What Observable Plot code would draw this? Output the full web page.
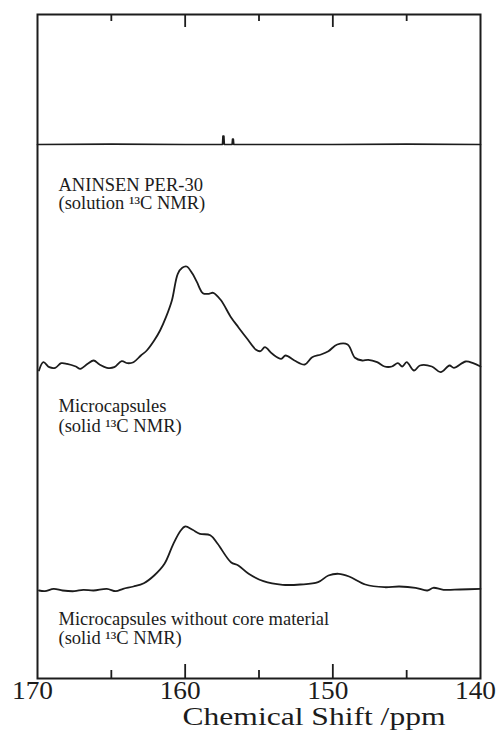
<!DOCTYPE html>
<html><head><meta charset="utf-8">
<script src="https://cdn.jsdelivr.net/npm/d3@7"></script>
<script src="https://cdn.jsdelivr.net/npm/@observablehq/plot@0.6"></script>
<style>body{margin:0;background:#fff}</style>
</head><body><div id="chart"></div>
<script>
// Chemical shift (ppm) and intensity (arbitrary units)
const solutionPpm = [170, 165, 160, 157.47, 157.44, 157.38, 157.35, 156.82, 156.79, 156.74, 156.71, 150, 145, 140];
const solutionInt = [0, 0.3, 0, 0, 8.5, 8.5, 0, 0, 5.5, 5.5, 0, 0, 0.3, 0];

const capsulePpm = [169.9,169.6,169.2,168.8,168.4,168.0,167.4,167.1,166.6,166.2,165.8,165.3,164.8,164.3,163.9,163.5,163.0,162.6,162.1,161.7,161.3,160.9,160.5,160.2,159.9,159.5,159.2,158.8,158.4,158.1,157.6,156.9,156.4,155.8,155.2,154.9,154.6,154.1,153.5,153.2,152.6,151.9,151.4,150.8,150.3,149.7,149.0,148.5,148.0,147.6,147.0,146.5,146.0,145.6,145.3,145.0,144.5,144.1,143.3,142.7,142.1,141.8,141.0,140.5,140.0];
const capsuleInt = [-4,4.3,-0.7,-1.3,3.3,2.7,0,-2.3,2.7,6,2,-1.3,-0.7,5.3,3.3,4.3,11,16,26,36,49.3,66,92.7,98.7,100,92.7,84.3,73.3,72.7,73.7,66.7,49.3,39.3,27.7,16.7,15.3,19.3,12.7,7.7,11,6,2,9.3,12,15.3,22,22,8.7,6,6.7,4.3,0,0,3.3,0,4.3,-4,1,0,-5.7,1,-1.3,5,3.3,0];

const emptyPpm = [169.9,169.5,168.9,168.3,167.5,166.9,166.2,165.3,164.7,164.2,163.5,162.8,162.1,161.4,160.8,160.3,160.0,159.5,159.0,158.3,157.8,156.9,156.4,155.7,154.7,153.4,152.2,151.0,150.3,149.6,148.9,147.8,146.5,145.5,144.4,143.6,143.2,142.5,141.4,140.0];
const emptyInt = [-1,-1.7,0.7,-1,-1.7,-0.3,-1,0.7,-1.7,0.7,3,6.3,14,25.7,45.7,59,63,59.7,55.7,54.3,45.7,27.3,24,15.7,8.3,4.7,5,7.3,14,15.7,13,5,2.3,3,1.7,-1,1.7,-0.3,0,0.7];

const seriesNames = ["solution", "capsules", "empty"];
const seriesOffsets = [534, 312, 89];   // vertical stacking offset of each trace
const labels = [
  "ANINSEN PER-30\n(solution \u00B9\u00B3C NMR)",
  "Microcapsules\n(solid \u00B9\u00B3C NMR)",
  "Microcapsules without core material\n(solid \u00B9\u00B3C NMR)"
];
const majorTicks = [160, 150];
const minorTicks = [165, 155, 145];
const tickLabels = [170, 160, 150, 140];
const xTitle = "Chemical Shift /ppm";

const rows = [];
[[solutionPpm, solutionInt], [capsulePpm, capsuleInt], [emptyPpm, emptyInt]].forEach(([p, v], i) => {
  p.forEach((ppm, j) => rows.push({series: seriesNames[i], ppm, y: v[j] + seriesOffsets[i]}));
});
const sharpRows = rows.filter(r => r.series === "solution");
const broadRows = rows.filter(r => r.series !== "solution");

const font = "'Liberation Serif', 'Times New Roman', serif";
const ink = "#1c1c1c";

const chart = Plot.plot({
  width: 496,
  height: 739,
  marginLeft: 37,
  marginRight: 16,
  marginTop: 14,
  marginBottom: 61,
  x: {domain: [170, 140], axis: null},
  y: {domain: [0, 664], axis: null},
  style: {fontFamily: font, background: "#fff", color: ink},
  marks: [
    Plot.line(sharpRows, {x: "ppm", y: "y", stroke: ink, strokeWidth: 1.7}),
    Plot.line(broadRows, {x: "ppm", y: "y", z: "series", stroke: ink, strokeWidth: 1.8, curve: "catmull-rom"}),
    // inward ticks, top and bottom
    Plot.ruleX(majorTicks, {y1: 651, y2: 664, stroke: ink, strokeWidth: 1.8}),
    Plot.ruleX(minorTicks, {y1: 657, y2: 664, stroke: ink, strokeWidth: 1.8}),
    Plot.ruleX(majorTicks, {y1: 0, y2: 14, stroke: ink, strokeWidth: 1.8}),
    Plot.ruleX(minorTicks, {y1: 0, y2: 8, stroke: ink, strokeWidth: 1.8}),
    Plot.frame({stroke: ink, strokeWidth: 2}),
    Plot.text(tickLabels, {x: d => d, frameAnchor: "bottom", dx: -5, dy: 20, lineAnchor: "bottom", fontSize: 25, fill: ink}),
    Plot.text([xTitle], {frameAnchor: "bottom", dx: 55, dy: 46, lineAnchor: "bottom", fontSize: 26, fill: ink}),
    Plot.text([labels[0]], {frameAnchor: "top-left", dx: 21, dy: 194.5, textAnchor: "start", lineAnchor: "bottom", lineHeight: 1.0, fontSize: 18.5, fill: ink}),
    Plot.text([labels[1]], {frameAnchor: "top-left", dx: 21, dy: 417, textAnchor: "start", lineAnchor: "bottom", lineHeight: 1.05, fontSize: 18.5, fill: ink}),
    Plot.text([labels[2]], {frameAnchor: "top-left", dx: 21, dy: 629, textAnchor: "start", lineAnchor: "bottom", lineHeight: 1.0, fontSize: 18.5, fill: ink})
  ]
});
document.getElementById("chart").appendChild(chart);

// the original's axis lettering is horizontally stretched
chart.querySelectorAll("text").forEach(t => {
  const s = t.textContent;
  if (s === xTitle) {
    t.setAttribute("textLength", 263);
    t.setAttribute("lengthAdjust", "spacingAndGlyphs");
  } else if (tickLabels.map(String).includes(s)) {
    t.setAttribute("textLength", 41);
    t.setAttribute("lengthAdjust", "spacingAndGlyphs");
  }
});
</script>
</body></html>
